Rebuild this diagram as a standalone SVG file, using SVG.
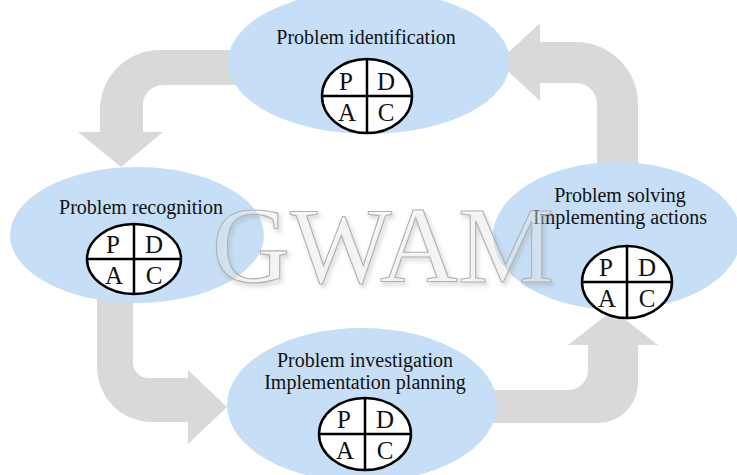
<svg xmlns="http://www.w3.org/2000/svg" width="737" height="475" viewBox="0 0 737 475">
<defs>
<style>
.arrow{fill:#d9d9d9;stroke:none}
.ell{fill:#c6dff6}
.lbl{font-family:"Liberation Serif","Times New Roman",serif;font-size:20px;fill:#111;text-anchor:middle}
.pdca{fill:#fff;stroke:#000;stroke-width:2.5}
.div{stroke:#000;stroke-width:2.5}
.let{font-family:"Liberation Serif","Times New Roman",serif;font-size:25px;fill:#111;text-anchor:middle}
.wm{font-family:"Liberation Serif","Times New Roman",serif;font-size:108px;fill:#ffffff;fill-opacity:0.3;stroke:#b0b0b0;stroke-width:1.1}
</style>
<filter id="sh" x="-10%" y="-10%" width="120%" height="130%">
<feDropShadow dx="2" dy="3" stdDeviation="2" flood-color="#888" flood-opacity="0.55"/>
</filter>
</defs>
<rect width="737" height="475" fill="#fff"/>
<g id="connectors">
<path class="arrow" d="M235 50 L160 50 A60 60 0 0 0 100 110 L100 132 L78 132 L121 167 L163 132 L143 132 L143 105 A20 20 0 0 1 163 85 L235 85 Z"/>
<path class="arrow" d="M540 42 L576 42 A62 62 0 0 1 638 104 L638 172 L597 172 L597 104 A21 21 0 0 0 576 83 L540 83 L540 101 L498 62 L540 23 Z"/>
<path class="arrow" d="M97 295 L133 295 L133 363 A15 15 0 0 0 148 378 L188 378 L188 370 L227 407 L188 444 L188 422 L152 422 A55 55 0 0 1 97 367 Z"/>
<path class="arrow" d="M490 390 L568 390 A20 20 0 0 0 588 370 L588 345 L568 345 L613 310 L658 345 L638 345 L638 383 A40 40 0 0 1 598 423 L490 423 Z"/>
</g>
<g id="n1">
<ellipse class="ell" cx="369" cy="62" rx="141" ry="72"/>
<text class="lbl" x="366" y="44">Problem identification</text>
<ellipse class="pdca" cx="367" cy="96" rx="45" ry="37"/>
<line class="div" x1="367" y1="59" x2="367" y2="133"/>
<line class="div" x1="322" y1="96" x2="412" y2="96"/>
<text class="let" x="346" y="90">P</text><text class="let" x="386" y="90">D</text>
<text class="let" x="347" y="121">A</text><text class="let" x="386" y="121">C</text>
</g>
<g id="n2">
<ellipse class="ell" cx="137" cy="235" rx="127" ry="68"/>
<text class="lbl" x="141" y="214">Problem recognition</text>
<ellipse class="pdca" cx="134" cy="259" rx="47" ry="35"/>
<line class="div" x1="134" y1="224" x2="134" y2="294"/>
<line class="div" x1="87" y1="259" x2="181" y2="259"/>
<text class="let" x="113" y="253">P</text><text class="let" x="154" y="253">D</text>
<text class="let" x="114" y="284">A</text><text class="let" x="154" y="284">C</text>
</g>
<g id="n3">
<ellipse class="ell" cx="617" cy="236" rx="124" ry="74"/>
<text class="lbl" x="620" y="202">Problem solving</text>
<text class="lbl" x="620" y="224">Implementing actions</text>
<ellipse class="pdca" cx="627" cy="282" rx="45" ry="36"/>
<line class="div" x1="627" y1="246" x2="627" y2="318"/>
<line class="div" x1="582" y1="282" x2="672" y2="282"/>
<text class="let" x="606" y="276">P</text><text class="let" x="647" y="276">D</text>
<text class="let" x="607" y="307">A</text><text class="let" x="647" y="307">C</text>
</g>
<g id="n4">
<ellipse class="ell" cx="362" cy="405" rx="135" ry="77"/>
<text class="lbl" x="365" y="367">Problem investigation</text>
<text class="lbl" x="365" y="389">Implementation planning</text>
<ellipse class="pdca" cx="365" cy="434" rx="46" ry="36"/>
<line class="div" x1="365" y1="398" x2="365" y2="470"/>
<line class="div" x1="319" y1="434" x2="411" y2="434"/>
<text class="let" x="344" y="428">P</text><text class="let" x="385" y="428">D</text>
<text class="let" x="345" y="459">A</text><text class="let" x="385" y="459">C</text>
</g>
<text class="wm" x="212" y="282" filter="url(#sh)">GWAM</text>
</svg>
